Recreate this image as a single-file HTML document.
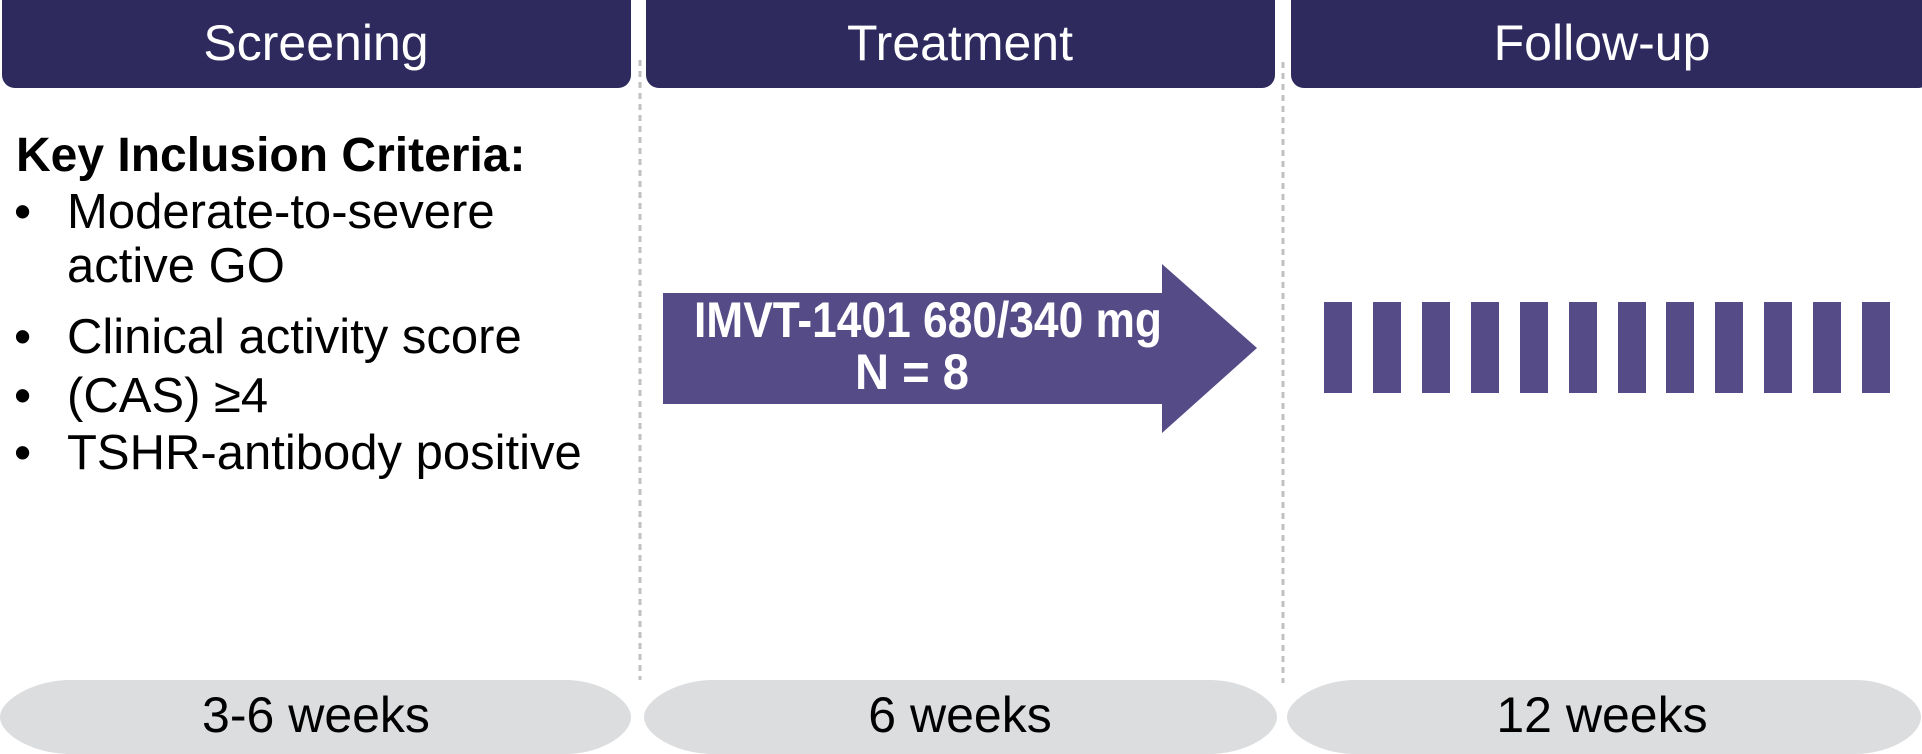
<!DOCTYPE html>
<html><head><meta charset="utf-8"><style>
html,body{margin:0;padding:0;background:#fff;}
svg{display:block;}
text{font-family:"Liberation Sans",Arial,sans-serif;}
</style></head><body>
<svg width="1922" height="754" viewBox="0 0 1922 754" xmlns="http://www.w3.org/2000/svg">
<rect x="2" y="-12" width="629" height="100" rx="13" fill="#2e2a5e"/>
<rect x="646" y="-12" width="629" height="100" rx="13" fill="#2e2a5e"/>
<rect x="1291" y="-12" width="640" height="100" rx="13" fill="#2e2a5e"/>
<text x="316" y="60" font-size="50" fill="#fff" text-anchor="middle">Screening</text>
<text x="960" y="60" font-size="50" fill="#fff" text-anchor="middle">Treatment</text>
<text x="1602" y="60" font-size="50" fill="#fff" text-anchor="middle">Follow-up</text>
<line x1="640" y1="60" x2="640" y2="680" stroke="#c0c0c0" stroke-width="3" stroke-dasharray="6,5"/>
<line x1="1283" y1="62" x2="1283" y2="683" stroke="#c0c0c0" stroke-width="3" stroke-dasharray="6,5"/>
<text x="16" y="171" font-size="48" font-weight="bold" fill="#000">Key Inclusion Criteria:</text>
<g font-size="49" fill="#000">
<text x="14" y="228">•</text><text x="67" y="228">Moderate-to-severe</text>
<text x="67" y="282">active GO</text>
<text x="14" y="353">•</text><text x="67" y="353">Clinical activity score</text>
<text x="14" y="412">•</text><text x="67" y="412">(CAS) ≥4</text>
<text x="14" y="469">•</text><text x="67" y="469">TSHR-antibody positive</text>
</g>
<polygon points="663,293 1162,293 1162,264 1257,348 1162,433 1162,404 663,404" fill="#554c87"/>
<text x="694" y="337" font-size="50" font-weight="bold" fill="#fff" textLength="468" lengthAdjust="spacingAndGlyphs">IMVT-1401 680/340 mg</text>
<text x="912" y="389" font-size="50" font-weight="bold" fill="#fff" text-anchor="middle" textLength="114" lengthAdjust="spacingAndGlyphs">N = 8</text>
<g fill="#554c87">
<rect x="1324" y="302" width="28" height="91"/><rect x="1373" y="302" width="28" height="91"/>
<rect x="1422" y="302" width="28" height="91"/><rect x="1471" y="302" width="28" height="91"/>
<rect x="1520" y="302" width="28" height="91"/><rect x="1569" y="302" width="28" height="91"/>
<rect x="1618" y="302" width="28" height="91"/><rect x="1666" y="302" width="28" height="91"/>
<rect x="1715" y="302" width="28" height="91"/><rect x="1764" y="302" width="28" height="91"/>
<rect x="1813" y="302" width="28" height="91"/><rect x="1862" y="302" width="28" height="91"/>
</g>
<g fill="#dcdddf">
<path d="M70,680 H566 C600,680 631,700 631,717 C631,735 600,754 566,754 H70 C34,754 0,735 0,717 C0,700 34,680 70,680 Z"/>
<path d="M713,680 H1210 C1245,680 1277,700 1277,717 C1277,735 1245,754 1210,754 H713 C677,754 644,735 644,717 C644,700 677,680 713,680 Z"/>
<path d="M1355,680 H1855 C1890,680 1921,700 1921,717 C1921,735 1890,754 1855,754 H1355 C1320,754 1287,735 1287,717 C1287,700 1320,680 1355,680 Z"/>
</g>
<g font-size="50" fill="#000" text-anchor="middle">
<text x="316" y="732">3-6 weeks</text>
<text x="960" y="732">6 weeks</text>
<text x="1602" y="732">12 weeks</text>
</g>
</svg>
</body></html>
